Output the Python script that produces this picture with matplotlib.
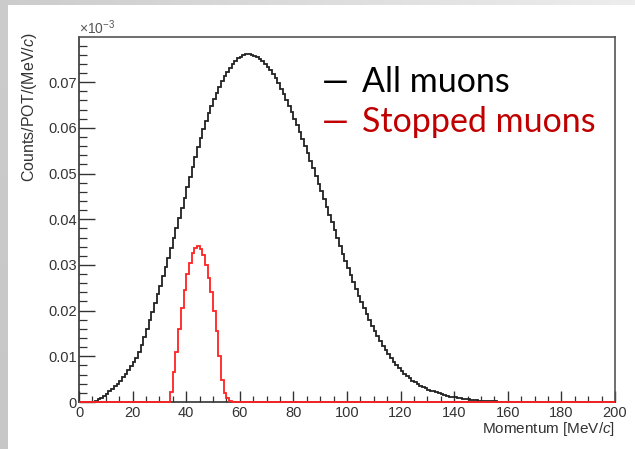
import matplotlib
matplotlib.use("Agg")
import matplotlib.pyplot as plt
import numpy as np
from matplotlib.ticker import MultipleLocator, FuncFormatter

plt.rcParams["mathtext.fontset"] = "custom"
plt.rcParams["mathtext.rm"] = "Liberation Sans"
plt.rcParams["mathtext.it"] = "Liberation Sans:italic"

# ---------------- data (units of 1e-3 counts/POT/(MeV/c)), 1 MeV/c bins 0..200
momentum_edges = np.arange(0, 201, 1)

all_muons = [
    0, 0, 0, 0, 0, 0.0001, 0.0003, 0.0006, 0.0009, 0.0013,                           # 0-9
    0.0018, 0.0023, 0.0028, 0.0034, 0.0040, 0.0047, 0.0054, 0.0062, 0.0070, 0.0079,  # 10-19
    0.0088, 0.0097, 0.0110, 0.0125, 0.0142, 0.0160, 0.0179, 0.0198, 0.0217, 0.0236,  # 20-29
    0.0255, 0.0275, 0.0295, 0.0316, 0.0337, 0.0359, 0.0381, 0.0403, 0.0425, 0.0447,  # 30-39
    0.0470, 0.0493, 0.0515, 0.0537, 0.0558, 0.0578, 0.0597, 0.0615, 0.0632, 0.0648,  # 40-49
    0.0663, 0.0677, 0.0690, 0.0702, 0.0713, 0.0723, 0.0732, 0.0740, 0.0747, 0.0752,  # 50-59
    0.0756, 0.0759, 0.0761, 0.0761, 0.0760, 0.0758, 0.0755, 0.0751, 0.0746, 0.0740,  # 60-69
    0.0733, 0.0726, 0.0718, 0.0709, 0.0698, 0.0686, 0.0674, 0.0661, 0.0648, 0.0634,  # 70-79
    0.0620, 0.0606, 0.0591, 0.0576, 0.0560, 0.0544, 0.0528, 0.0512, 0.0495, 0.0478,  # 80-89
    0.0461, 0.0444, 0.0427, 0.0410, 0.0393, 0.0376, 0.0359, 0.0342, 0.0325, 0.0309,  # 90-99
    0.0293, 0.0277, 0.0262, 0.0247, 0.0233, 0.0219, 0.0205, 0.0192, 0.0179, 0.0167,  # 100-109
    0.0155, 0.0144, 0.0133, 0.0123, 0.0113, 0.0104, 0.0096, 0.0088, 0.0081, 0.0074,  # 110-119
    0.0068, 0.0062, 0.0057, 0.0052, 0.0047, 0.0043, 0.0039, 0.0036, 0.0033, 0.0030,  # 120-129
    0.0027, 0.0025, 0.0023, 0.0021, 0.0019, 0.0017, 0.0015, 0.0014, 0.0012, 0.0011,  # 130-139
    0.0010, 0.0009, 0.0008, 0.0007, 0.0006, 0.0006, 0.0005, 0.0004, 0.0004, 0.0003,  # 140-149
    0.0003, 0.0002, 0.0002, 0.0002, 0.0002, 0.0002, 0.0001, 0.0001, 0.0001, 0.0001,  # 150-159
    0.0001, 0.0001, 0.0001, 0.0001, 0.0001, 0.0001, 0.0001, 0.0001, 0.0001, 0.0001,  # 160-169
    0.0001, 0.0001, 0.0001, 0.0001, 0.0001, 0.0001, 0.0001, 0.0001, 0, 0,            # 170-179
    0, 0, 0, 0, 0, 0, 0, 0, 0, 0,                                                     # 180-189
    0, 0, 0, 0, 0, 0, 0, 0, 0, 0,                                                     # 190-199
]

stopped_muons = [
    0, 0, 0, 0, 0, 0, 0, 0, 0, 0,                                                     # 0-9
    0, 0, 0, 0, 0, 0, 0, 0, 0, 0,                                                     # 10-19
    0, 0, 0, 0, 0, 0, 0, 0, 0, 0,                                                     # 20-29
    0, 0, 0, 0, 0.0022, 0.0066, 0.0110, 0.0160, 0.0205, 0.0245,                       # 30-39
    0.0280, 0.0305, 0.0326, 0.0338, 0.0342, 0.0336, 0.0322, 0.0300, 0.0272, 0.0240,  # 40-49
    0.0200, 0.0155, 0.0100, 0.0048, 0.0020, 0.0008, 0.0002, 0, 0, 0,                 # 50-59
    0, 0, 0, 0, 0, 0, 0, 0, 0, 0,                                                     # 60-69
    0, 0, 0, 0, 0, 0, 0, 0, 0, 0,                                                     # 70-79
    0, 0, 0, 0, 0, 0, 0, 0, 0, 0,                                                     # 80-89
    0, 0, 0, 0, 0, 0, 0, 0, 0, 0,                                                     # 90-99
    0, 0, 0, 0, 0, 0, 0, 0, 0, 0,                                                     # 100-109
    0, 0, 0, 0, 0, 0, 0, 0, 0, 0,                                                     # 110-119
    0, 0, 0, 0, 0, 0, 0, 0, 0, 0,                                                     # 120-129
    0, 0, 0, 0, 0, 0, 0, 0, 0, 0,                                                     # 130-139
    0, 0, 0, 0, 0, 0, 0, 0, 0, 0,                                                     # 140-149
    0, 0, 0, 0, 0, 0, 0, 0, 0, 0,                                                     # 150-159
    0, 0, 0, 0, 0, 0, 0, 0, 0, 0,                                                     # 160-169
    0, 0, 0, 0, 0, 0, 0, 0, 0, 0,                                                     # 170-179
    0, 0, 0, 0, 0, 0, 0, 0, 0, 0,                                                     # 180-189
    0, 0, 0, 0, 0, 0, 0, 0, 0, 0,                                                     # 190-199
]

legend_labels = ["All muons", "Stopped muons"]
x_label = "Momentum [MeV/$\\mathit{c}$]"
y_label = "Counts/POT/(MeV/$\\mathit{c}$)"

# ---------------- figure
W, H = 635, 449
fig = plt.figure(figsize=(W / 100, H / 100), dpi=100)
fig.patch.set_facecolor("white")

# slide background strips (gray border at left and top)
bg = fig.add_axes([0, 0, 1, 1], zorder=-10)
bg.axis("off")
grad = np.linspace(0.80, 0.93, 256).reshape(1, -1)
bg.imshow(np.dstack([grad, grad, grad]), extent=[0, W, 5, 0], aspect="auto")
vgrad = np.linspace(0.80, 0.78, 256).reshape(-1, 1)
bg.imshow(np.dstack([vgrad, vgrad, vgrad]), extent=[0, 8, H, 0], aspect="auto")
bg.set_xlim(0, W)
bg.set_ylim(H, 0)

ax = fig.add_axes([79 / W, 1 - 402 / H, (615 - 79) / W, (402 - 37) / H])
ax.set_facecolor("white")
ax.stairs(all_muons, momentum_edges, color="#222222", lw=1.3, zorder=2)
ax.stairs(stopped_muons, momentum_edges, color="#ff2222", lw=1.3, zorder=3, clip_on=False)

ax.set_xlim(0, 200)
ax.set_ylim(0, 0.0799)

ax.xaxis.set_major_locator(MultipleLocator(20))
ax.xaxis.set_minor_locator(MultipleLocator(5))
ax.yaxis.set_major_locator(MultipleLocator(0.01))
ax.yaxis.set_minor_locator(MultipleLocator(0.002))
ax.yaxis.set_major_formatter(FuncFormatter(lambda v, _: "0" if abs(v) < 1e-9 else f"{v:.2f}"))
ax.xaxis.set_major_formatter(FuncFormatter(lambda v, _: f"{v:.0f}"))

ax.tick_params(which="both", direction="in", top=False, right=False, colors="#333333")
ax.tick_params(axis="y", which="major", length=11.5, width=1.0, pad=1.5, labelsize=10.5)
ax.tick_params(axis="y", which="minor", length=5.8, width=0.9)
ax.tick_params(axis="x", which="major", length=8, width=1.0, pad=3.0, labelsize=10.5)
ax.tick_params(axis="x", which="minor", length=4.3, width=0.9)
for lab in ax.get_xticklabels() + ax.get_yticklabels():
    lab.set_fontfamily("Liberation Sans")

for side in ["left", "bottom"]:
    ax.spines[side].set_color("#333333")
    ax.spines[side].set_linewidth(1.2)
for side in ["top", "right"]:
    ax.spines[side].set_color("#555555")
    ax.spines[side].set_linewidth(1.2)

# axis titles (ROOT style: at the ends of the axes)
fig.text(30 / W, 1 - 32 / H, y_label, rotation=90, ha="center", va="top",
         fontsize=11.5, color="#333333", family="Liberation Sans")
fig.text(615 / W, 1 - 428.5 / H, x_label, ha="right", va="center",
         fontsize=11, color="#333333", family="Liberation Sans")
fig.text(79 / W, 1 - 34 / H, r"$\times10^{-3}$", ha="left", va="baseline",
         fontsize=10, color="#555555")

# legend as slide text
fig.text(322 / W, 1 - 92 / H, "\u2014", ha="left", va="baseline", fontsize=24.5,
         color="black", family="Lato")
fig.text(362 / W, 1 - 92 / H, legend_labels[0], ha="left", va="baseline", fontsize=24.5,
         color="black", family="Lato")
fig.text(322 / W, 1 - 132 / H, "\u2014", ha="left", va="baseline", fontsize=24.5,
         color="#c00000", family="Lato")
fig.text(362 / W, 1 - 132 / H, legend_labels[1], ha="left", va="baseline", fontsize=24.5,
         color="#c00000", family="Lato")

fig.savefig("out.png", dpi=100, facecolor=fig.get_facecolor())
